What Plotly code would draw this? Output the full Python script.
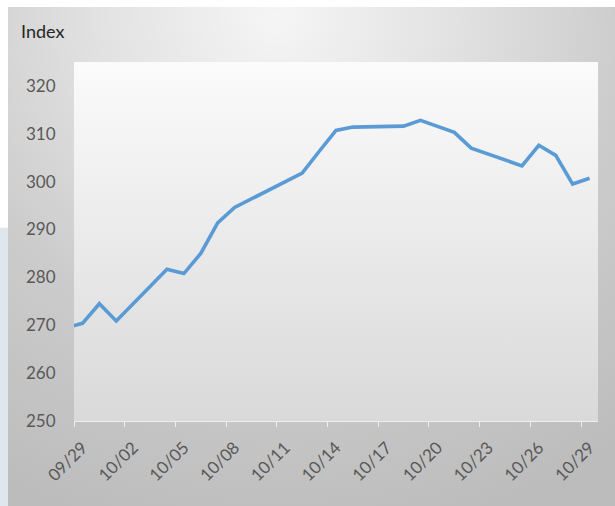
import plotly.graph_objects as go

# ---- data ----
dates = ["2021-09-28", "2021-09-29", "2021-09-30", "2021-10-01", "2021-10-04",
         "2021-10-05", "2021-10-06", "2021-10-07", "2021-10-08", "2021-10-11",
         "2021-10-12", "2021-10-13", "2021-10-14", "2021-10-15", "2021-10-18",
         "2021-10-19", "2021-10-20", "2021-10-21", "2021-10-22", "2021-10-25",
         "2021-10-26", "2021-10-27", "2021-10-28", "2021-10-29"]
index_values = [269.4, 270.4, 274.5, 270.9, 281.7,
                280.8, 285.0, 291.4, 294.6, 300.0,
                301.8, 306.3, 310.7, 311.4, 311.6,
                312.8, 311.5, 310.3, 307.0, 303.3,
                307.6, 305.5, 299.5, 300.7]
y_ticks = [250, 260, 270, 280, 290, 300, 310, 320]
x_range = ["2021-09-28 12:00", "2021-10-29 12:00"]
y_range = [250, 325]
title_text = "Index"

# ---- layout constants (pixels) ----
W, H = 615, 506
PANEL_L, PANEL_T = 8, 7
PLOT_L, PLOT_R, PLOT_T, PLOT_B = 74, 598, 62, 421

def fx(px):
    return px / W

def fy(py):
    return 1 - py / H

DAY = 86400000

fig = go.Figure()

# background subplot (x / y) in paper-fraction coordinates
pl, pt = fx(PANEL_L), fy(PANEL_T)
cx, cy = 0.45, pt - 0.02
rx, ry = 0.95, 1.05
fig.add_trace(go.Scatter(
    x=[cx - rx, cx + rx, cx + rx, cx - rx, cx - rx],
    y=[cy - ry, cy - ry, cy + ry, cy + ry, cy - ry],
    mode="lines", line=dict(width=0), fill="toself",
    fillgradient=dict(type="radial",
                      colorscale=[[0, "#f5f5f5"], [0.3, "#e2e2e2"],
                                  [0.6, "#cccccc"], [1, "#bcbcbc"]]),
    hoverinfo="skip", showlegend=False, xaxis="x", yaxis="y"))

a, b, c, d = fx(PLOT_L), fx(PLOT_R), fy(PLOT_B), fy(PLOT_T)
fig.add_trace(go.Scatter(
    x=[a, b, b, a, a], y=[c, c, d, d, c],
    mode="lines", line=dict(width=0), fill="toself",
    fillgradient=dict(type="vertical",
                      colorscale=[[0, "#d9d9d9"], [1, "#fbfbfb"]]),
    hoverinfo="skip", showlegend=False, xaxis="x", yaxis="y"))

# data line
fig.add_trace(go.Scatter(
    x=dates, y=index_values, mode="lines",
    line=dict(color="#5B9BD5", width=3.6),
    showlegend=False, xaxis="x2", yaxis="y2"))

font_family = "Lato, Open Sans, sans-serif"

fig.update_layout(
    template="none",
    width=W, height=H,
    margin=dict(l=0, r=0, t=0, b=0, pad=0),
    paper_bgcolor="#ffffff",
    plot_bgcolor="rgba(0,0,0,0)",
    xaxis=dict(domain=[pl, 1], range=[pl, 1], visible=False, fixedrange=True,
               automargin=False),
    yaxis=dict(domain=[0, pt], range=[0, pt], visible=False, fixedrange=True,
               automargin=False),
    xaxis2=dict(domain=[a, b], range=x_range, type="date", anchor="y2",
                automargin=False,
                showgrid=False, zeroline=False,
                showline=True, linecolor="#eeeeee", linewidth=1,
                ticks="outside", ticklen=9, tickcolor="rgba(0,0,0,0)",
                tick0="2021-09-29", dtick=3 * DAY, tickformat="%m/%d",
                tickangle=-45,
                tickfont=dict(family=font_family, size=17, color="#595959"),
                minor=dict(ticks="outside", ticklen=5, tickcolor="#eeeeee",
                           tickwidth=1, tick0="2021-09-28 12:00", dtick=3 * DAY,
                           showgrid=False)),
    yaxis2=dict(domain=[c, d], range=y_range, anchor="x2",
                automargin=False,
                tickvals=y_ticks, showgrid=False, zeroline=False, showline=False,
                ticks="outside", ticklen=14, tickcolor="rgba(0,0,0,0)",
                tickfont=dict(family=font_family, size=17, color="#595959")),
    shapes=[dict(type="rect", xref="paper", yref="paper",
                 x0=0, x1=pl, y0=0, y1=0.55, fillcolor="#dfe6ee",
                 line=dict(width=0), layer="below")],
    annotations=[dict(text=title_text, xref="paper", yref="paper",
                      x=fx(19), y=fy(31), xanchor="left", yanchor="middle",
                      showarrow=False,
                      font=dict(family=font_family, size=18, color="#262626"))],
)

fig.write_html("out.html",
               config={"displayModeBar": False},
               post_script="document.body.style.margin='0';"
                           "document.body.style.overflow='hidden';")
